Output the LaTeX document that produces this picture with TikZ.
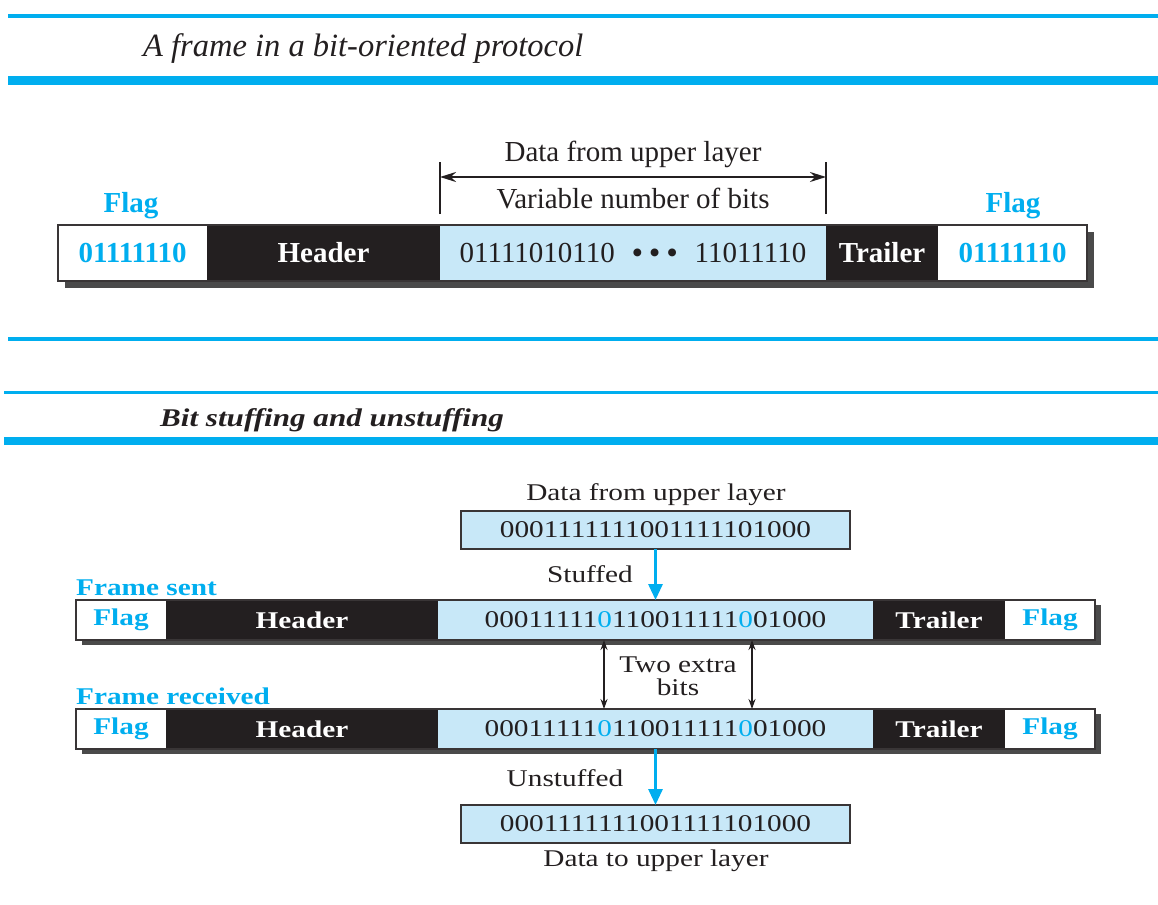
\documentclass[tikz,border=0pt]{standalone}
\usepackage{fontspec}
\setmainfont{Liberation Serif}
\newfontfamily\wideserif[FakeStretch=1.22]{Liberation Serif}
\usetikzlibrary{arrows.meta,backgrounds}

\definecolor{rule}{HTML}{00AEEF}
\definecolor{datafill}{HTML}{C8E8F8}
\definecolor{ink}{HTML}{231F20}
\definecolor{dropgray}{HTML}{4A4A4A}

\newcommand\topsz{\fontsize{29}{34}\selectfont}
\newcommand\botsz{\wideserif\fontsize{24}{29}\selectfont}

\tikzset{
  cellbase/.style={anchor=north west, inner sep=0pt, outer sep=0pt},
  flagcell/.style={cellbase, fill=white, text=rule, font=#1\bfseries},
  darkcell/.style={cellbase, fill=ink, text=white, font=#1\bfseries},
  datacell/.style={cellbase, fill=datafill, text=ink, font=#1},
  frameline/.style={draw=ink!90, line width=1.8pt},
  dropshadow/.style={fill=dropgray},
  thinrule/.style={draw=rule, line width=4.5pt},
  thickrule/.style={draw=rule, line width=9pt},
  toplabel/.style={anchor=base, inner sep=0pt, text=ink, font=\topsz},
  botlabel/.style={anchor=base, inner sep=0pt, text=ink, font=\botsz},
  bluelabel/.style={anchor=base west, inner sep=0pt, text=rule, font=#1\bfseries},
  dimtick/.style={draw=ink, line width=1.6pt},
  dimarrow/.style={draw=ink, line width=2.2pt, {Stealth[length=16pt,width=10pt]}-{Stealth[length=16pt,width=10pt]}},
  flowarrow/.style={draw=rule, line width=3pt, -{Triangle[length=16pt,width=14pt]}},
  markarrow/.style={draw=ink, line width=1.5pt, {Stealth[length=10pt,width=7pt]}-{Stealth[length=10pt,width=7pt]}},
}

\begin{document}
\begin{tikzpicture}[x=1pt,y=-1pt]
\useasboundingbox (0,0) rectangle (1158,904);

% ---------- section 1: frame layout ----------
\coordinate (r1a) at (8,16);    \coordinate (r1b) at (1158,16);
\coordinate (r2a) at (8,81);    \coordinate (r2b) at (1158,81);
\draw[thinrule]  (r1a) -- (r1b);
\draw[thickrule] (r2a) -- (r2b);
\node[anchor=base west, inner sep=0pt, text=ink, font=\fontsize{32.5}{38}\selectfont\itshape]
  (title1) at (143,57) {A frame in a bit-oriented protocol};

\node[flagcell=\topsz, minimum width=149pt, minimum height=56pt] (fa) at (58,225) {01111110};
\node[darkcell=\topsz, minimum width=233pt, minimum height=56pt] (ha) at (207,225) {Header};
\node[datacell=\topsz, minimum width=386pt, minimum height=56pt] (da) at (440,225)
  {01111010110\hspace{0.6em}{\bfseries•\hspace{0.25em}•\hspace{0.25em}•}\hspace{0.6em}11011110};
\node[darkcell=\topsz, minimum width=112pt, minimum height=56pt] (ta) at (826,225) {Trailer};
\node[flagcell=\topsz, minimum width=149pt, minimum height=56pt] (ga) at (938,225) {01111110};
\draw[frameline] (fa.north west) rectangle (ga.south east);
\begin{scope}[on background layer]
  \path[dropshadow] ([shift={(7,7)}]fa.north west) rectangle ([shift={(7,7)}]ga.south east);
\end{scope}

\node[anchor=base, inner sep=0pt, text=rule, font=\topsz\bfseries] (flaglabA) at (131,212) {Flag};
\node[anchor=base, inner sep=0pt, text=rule, font=\topsz\bfseries] (flaglabB) at (1013,212) {Flag};

\draw[dimtick] ([yshift=11pt]da.north west) -- ([yshift=63pt]da.north west);
\draw[dimtick] ([yshift=11pt]da.north east) -- ([yshift=63pt]da.north east);
\draw[dimarrow] ([yshift=48pt]da.north west) -- ([yshift=48pt]da.north east);
\node[toplabel] (upA) at (633,161) {Data from upper layer};
\node[toplabel] (varA) at (633,208) {Variable number of bits};

% ---------- section 2: bit stuffing ----------
\coordinate (r3a) at (8,338.5); \coordinate (r3b) at (1158,338.5);
\coordinate (r4a) at (4,392.5); \coordinate (r4b) at (1158,392.5);
\coordinate (r5a) at (4,441);   \coordinate (r5b) at (1158,441);
\draw[thinrule, line width=4pt] (r3a) -- (r3b);
\draw[thinrule, line width=3.5pt] (r4a) -- (r4b);
\draw[thickrule, line width=8pt] (r5a) -- (r5b);
\node[anchor=base west, inner sep=0pt, text=ink,
      font=\wideserif\fontsize{25.5}{30}\selectfont\bfseries\itshape]
  (title2) at (160,426) {Bit stuffing and unstuffing};

% data handed down
\node[botlabel] (upB) at (656,500) {Data from upper layer};
\node[datacell=\botsz, draw=ink!90, line width=1.8pt, minimum width=389pt, minimum height=38pt]
  (src) at (461,511) {0001111111001111101000};

% frame sent
\node[flagcell=\botsz, minimum width=90pt,  minimum height=40pt] (fs)  at (76,600)   {Flag};
\node[darkcell=\botsz, minimum width=272pt, minimum height=40pt] (hs)  at (166,600)  {Header};
\node[datacell=\botsz, minimum width=435pt, minimum height=40pt] (ds)  at (438,600)
  {00011111\textcolor{rule}{0}110011111\textcolor{rule}{0}01000};
\node[darkcell=\botsz, minimum width=132pt, minimum height=40pt] (ts)  at (873,600)  {Trailer};
\node[flagcell=\botsz, minimum width=90pt,  minimum height=40pt] (gs)  at (1005,600) {Flag};
\draw[frameline] (fs.north west) rectangle (gs.south east);

% frame received
\node[flagcell=\botsz, minimum width=90pt,  minimum height=40pt] (fr)  at (76,709)   {Flag};
\node[darkcell=\botsz, minimum width=272pt, minimum height=40pt] (hr)  at (166,709)  {Header};
\node[datacell=\botsz, minimum width=435pt, minimum height=40pt] (dr)  at (438,709)
  {00011111\textcolor{rule}{0}110011111\textcolor{rule}{0}01000};
\node[darkcell=\botsz, minimum width=132pt, minimum height=40pt] (tr)  at (873,709)  {Trailer};
\node[flagcell=\botsz, minimum width=90pt,  minimum height=40pt] (gr)  at (1005,709) {Flag};
\draw[frameline] (fr.north west) rectangle (gr.south east);

\begin{scope}[on background layer]
  \path[dropshadow] ([shift={(6,5)}]fs.north west) rectangle ([shift={(6,5)}]gs.south east);
  \path[dropshadow] ([shift={(6,5)}]fr.north west) rectangle ([shift={(6,5)}]gr.south east);
\end{scope}

\node[bluelabel=\botsz] (sentlab) at (76,595) {Frame sent};
\node[bluelabel=\botsz] (recvlab) at (76,704) {Frame received};

% data handed up
\node[datacell=\botsz, draw=ink!90, line width=1.8pt, minimum width=389pt, minimum height=38pt]
  (dst) at (461,805) {0001111111001111101000};
\node[botlabel] (downB) at (656,866) {Data to upper layer};

% flow arrows
\draw[flowarrow] (src.south) -- (ds.north);
\draw[flowarrow] (dr.south) -- (dst.north);
\node[botlabel] (stuffed) at (590,582) {Stuffed};
\node[botlabel] (unstuffed) at (565,786) {Unstuffed};

% the two inserted bits
\coordinate (bitA) at (604,0);
\coordinate (bitB) at (752,0);
\draw[markarrow] (ds.south -| bitA) -- (dr.north -| bitA);
\draw[markarrow] (ds.south -| bitB) -- (dr.north -| bitB);
\node[botlabel] (two) at (678,672) {Two extra};
\node[botlabel] (bits) at (678,695) {bits};
\end{tikzpicture}
\end{document}
